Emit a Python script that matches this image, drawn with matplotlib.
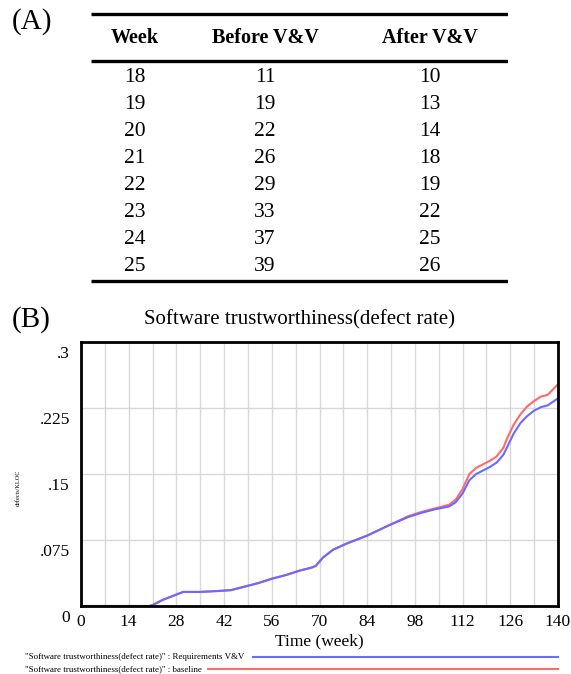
import matplotlib.pyplot as plt
from matplotlib.lines import Line2D
from matplotlib.transforms import ScaledTranslation

plt.rcParams['font.family'] = ['Liberation Serif', 'DejaVu Serif']

# (A) table data
weeks = [18, 19, 20, 21, 22, 23, 24, 25]
before_vv = [11, 19, 22, 26, 29, 33, 37, 39]
after_vv = [10, 13, 14, 18, 19, 22, 25, 26]
headers = ["Week", "Before V&V", "After V&V"]

# (B) simulation curves (defects/KLOC)
time = [0, 14, 18, 20, 21, 24, 28, 30, 35, 40, 44, 48, 52, 56, 60, 64, 68, 69,
        71, 74, 78, 84, 90, 96, 100, 104, 108, 110, 112, 114, 116, 120, 122,
        124, 125, 127, 129, 131, 133, 135, 137, 140]
req_vv = [0, 0, 0, 0, 0.001, 0.007, 0.013, 0.016, 0.016, 0.017, 0.018, 0.022,
          0.026, 0.031, 0.035, 0.040, 0.044, 0.046, 0.055, 0.064, 0.071, 0.080,
          0.091, 0.101, 0.106, 0.110, 0.113, 0.118, 0.128, 0.143, 0.150, 0.158,
          0.163, 0.172, 0.180, 0.196, 0.208, 0.216, 0.222, 0.226, 0.228, 0.236]
baseline = [0, 0, 0, 0, 0.001, 0.007, 0.013, 0.016, 0.016, 0.017, 0.018, 0.022,
            0.026, 0.031, 0.035, 0.040, 0.044, 0.046, 0.055, 0.064, 0.071, 0.080,
            0.091, 0.102, 0.107, 0.111, 0.115, 0.121, 0.133, 0.150, 0.157, 0.165,
            0.170, 0.180, 0.190, 0.206, 0.218, 0.227, 0.233, 0.238, 0.240, 0.252]

W, H = 571, 674
fig = plt.figure(figsize=(W / 100, H / 100), dpi=100)


def box(x0, y0, x1, y1):
    # pixel box (top-left origin) -> figure fraction rect
    return [x0 / W, 1 - y1 / H, (x1 - x0) / W, (y1 - y0) / H]


# ---- table ----
tab = fig.add_axes(box(91, 10, 508, 285))
tab.axis('off')
tab.set_xlim(0, 1)
tab.set_ylim(285, 10)
col_x = [(135 - 91) / 417, (265 - 91) / 417, (430 - 91) / 417]
row_y0, row_dy = 77, 27.1
tab.hlines([14, 61, 281], 0, 1, color='black', linewidth=2.4)
for cx, h in zip(col_x, headers):
    tab.text(cx, 38, h, ha='center', va='center', fontsize=14.5, fontweight='bold')
for i, (wk, b, a) in enumerate(zip(weeks, before_vv, after_vv)):
    y = row_y0 + i * row_dy
    for cx, v in zip(col_x, (wk, b, a)):
        tab.text(cx, y, str(v), ha='center', va='center', fontsize=15.5)

fig.text(12 / W, 1 - 22 / H, "(A)", fontsize=21, va='center', ha='left')
fig.text(12 / W, 1 - 320 / H, "(B)", fontsize=21, va='center', ha='left')

# ---- chart ----
ax = fig.add_axes(box(81, 342, 558, 606))
ax.plot(time, baseline, color='#ff6a6a', linewidth=1.5)
ax.plot(time, req_vv, color='#6a6aff', linewidth=1.5)
ax.set_xlim(0, 140)
ax.set_ylim(0, 0.3)
ax.set_xticks(range(0, 141, 14))
ax.set_xticks(range(0, 141, 7), minor=True)
ax.set_yticks([0, 0.075, 0.15, 0.225, 0.3])
ax.set_yticklabels(["0", ".075", ".15", ".225", ".3"])
ax.grid(True, which='both', axis='x', color='#d8d8d8', linewidth=1)
ax.grid(True, axis='y', color='#d8d8d8', linewidth=1)
ax.set_axisbelow(True)
ax.tick_params(which='both', length=0, labelsize=12.5, pad=6)
ax.tick_params(axis='y', pad=8)
off = ScaledTranslation(0, -10 / 100, fig.dpi_scale_trans)
for lab in ax.get_yticklabels():
    lab.set_transform(lab.get_transform() + off)
for s in ax.spines.values():
    s.set_linewidth(2)
fig.text(300 / W, 1 - 320 / H, "Software trustworthiness(defect rate)",
         fontsize=15, ha='center', va='center')
ax.set_xlabel("Time (week)", fontsize=12.5, labelpad=2)
fig.text(18 / W, 1 - 488 / H, "defects/KLOC", rotation=90, fontsize=4.5,
         va='center', ha='center')

# legend rows
fig.text(25 / W, 1 - 657 / H,
         '"Software trustworthiness(defect rate)" : Requirements V&V',
         fontsize=6.4, va='center')
fig.text(25 / W, 1 - 669 / H,
         '"Software trustworthiness(defect rate)" : baseline',
         fontsize=6.4, va='center')
fig.add_artist(Line2D([253 / W, 558 / W], [1 - 657 / H] * 2,
                      color='#6a6aff', linewidth=1.5))
fig.add_artist(Line2D([208 / W, 558 / W], [1 - 669 / H] * 2,
                      color='#ff6a6a', linewidth=1.5))

fig.savefig("out.png", dpi=100)
